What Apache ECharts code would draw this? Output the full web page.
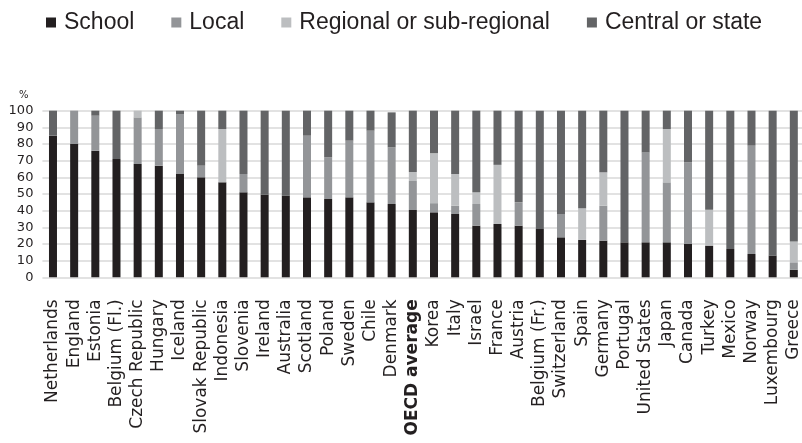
<!DOCTYPE html>
<html>
<head>
<meta charset="utf-8">
<script src="https://cdn.jsdelivr.net/npm/echarts@6/dist/echarts.min.js"></script>
<style>
html,body{margin:0;padding:0;background:#fff;}
#chart{width:802px;height:443px;}
</style>
</head>
<body>
<div id="chart"></div>
<script>
var categories = ["Netherlands","England","Estonia","Belgium (Fl.)","Czech Republic","Hungary","Iceland","Slovak Republic","Indonesia","Slovenia","Ireland","Australia","Scotland","Poland","Sweden","Chile","Denmark","OECD average","Korea","Italy","Israel","France","Austria","Belgium (Fr.)","Switzerland","Spain","Germany","Portugal","United States","Japan","Canada","Turkey","Mexico","Norway","Luxembourg","Greece"];
var school   = [85,80,76,71,68,67,62,60,57,51,49.5,49,48,47,48,45,44,40.4,39,38,31,32,31,29,24,22.5,22,21,21,21,20,19,17,14,13,4.5];
var local    = [0,20,21,0,28,22,36,7,0,11,0,0,37,25,34,43,34,17.4,5.5,5,13,0,14,0,14,0,21,0,54,36,49,0,0,65,0,4.5];
var regional = [0,0,0,0,4,0,0,0,32,0,0,0,0,0,0,0,0,5.4,30,19,7,35.5,0,0,0,19,20,0,0,32,0,21.5,0,0,0,12.5];
var central  = [15,0,3,29,0,11,2,33,11,38,50.5,51,15,28,18,12,21,36.8,25.5,38,49,32.5,55,71,62,58.5,37,79,25,11,31,59.5,83,21,87,78.5];
var yTicks = [0,10,20,30,40,50,60,70,80,90,100];
var seriesNames = ["School","Local","Regional or sub-regional","Central or state"];
var colors = ["#231f20","#939598","#bcbec0","#636466"];

var chart = echarts.init(document.getElementById('chart'));
var dataSets = [school, local, regional, central];
var series = seriesNames.map(function(n, i){
  return {
    name: n, type: 'bar', stack: 'total', barWidth: 8,
    itemStyle: {color: colors[i]},
    data: dataSets[i], animation: false
  };
});
chart.setOption({
  animation: false,
  color: colors,
  title: {text: '%', left: 14, top: 85, textStyle: {fontSize: 10, fontWeight: 'normal', color: '#231f20', fontFamily: 'DejaVu Sans'}},
  legend: {
    left: 41, top: 6, itemWidth: 10, itemHeight: 10, itemGap: 37, icon: 'rect',
    textStyle: {fontSize: 23, color: '#231f20', fontFamily: 'Liberation Sans', padding: [0, 0, 0, 3]},
    data: seriesNames
  },
  grid: {left: 42.4, top: 110.7, width: 762, height: 166.6, outerBoundsMode: 'none'},
  xAxis: {
    type: 'category', data: categories,
    axisLine: {show: false}, axisTick: {show: false},
    axisLabel: {
      interval: 0, rotate: 90, margin: 22, fontSize: 17, color: '#231f20', fontFamily: 'DejaVu Sans',
      formatter: function(v){ return v === 'OECD average' ? '{b|' + v + '}' : v; },
      rich: {b: {fontWeight: 'bold', fontSize: 17, fontFamily: 'DejaVu Sans', color: '#231f20'}}
    }
  },
  yAxis: {
    type: 'value', min: 0, max: 100, interval: 10,
    axisLine: {show: false}, axisTick: {show: false},
    axisLabel: {margin: 9, fontSize: 13, color: '#231f20', fontFamily: 'DejaVu Sans',
      formatter: function(v){ return yTicks.indexOf(v) >= 0 ? String(v) : ''; }},
    splitLine: {show: true, lineStyle: {color: '#d9d9d9', width: 1.5}}
  },
  series: series
});
</script>
</body>
</html>
